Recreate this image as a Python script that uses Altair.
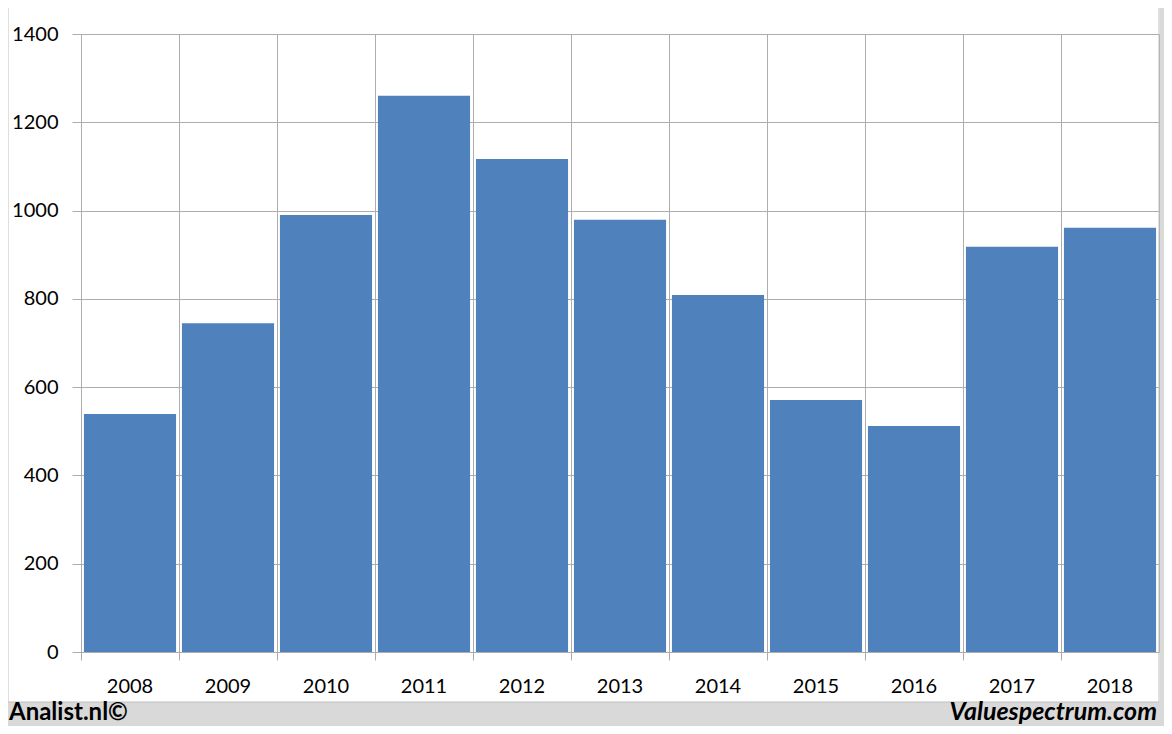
import altair as alt
import pandas as pd

years = ["2008", "2009", "2010", "2011", "2012", "2013", "2014", "2015", "2016", "2017", "2018"]
values = [539, 745, 990, 1260, 1117, 979, 809, 571, 512, 918, 961]
y_ticks = [0, 200, 400, 600, 800, 1000, 1200, 1400]

df = pd.DataFrame({"year": years, "value": values})

GRID = "#ADADAD"
BG = "#D9D9D9"
FONT = "Lato"

W, H = 1078, 618

one = pd.DataFrame({"k": [0]})

bottom_strip = alt.Chart(one).mark_rect(fill=BG).encode(
    x=alt.value(-80), x2=alt.value(1100), y=alt.value(668), y2=alt.value(720)
)
right_strip = alt.Chart(one).mark_rect(fill=BG).encode(
    x=alt.value(1079), x2=alt.value(1100), y=alt.value(-40), y2=alt.value(720)
)
panel_edge = alt.Chart(one).mark_rect(fill=None, stroke="#BFBFBF", strokeWidth=1).encode(
    x=alt.value(-73), x2=alt.value(1078), y=alt.value(-28), y2=alt.value(668)
)

bars = alt.Chart(df).mark_bar(
    color="#4F81BD", width=alt.RelativeBandSize(0.94)
).encode(
    x=alt.X("year:N", sort=years, title=None,
            scale=alt.Scale(paddingInner=0, paddingOuter=0),
            axis=alt.Axis(labelAngle=0, bandPosition=0, grid=True, gridColor=GRID,
                          domainColor=GRID, tickColor=GRID, tickSize=8,
                          labelPadding=16, labelFont=FONT, labelFontSize=20,
                          labelColor="#000000")),
    y=alt.Y("value:Q", title=None,
            scale=alt.Scale(domain=[0, 1400], nice=False),
            axis=alt.Axis(values=y_ticks, format="d", grid=True, gridColor=GRID,
                          domainColor=GRID, tickColor=GRID, tickSize=9,
                          labelPadding=14, labelFont=FONT, labelFontSize=20,
                          labelColor="#000000")),
)

left_txt = alt.Chart(pd.DataFrame({"t": ["Analist.nl©"]})).mark_text(
    align="left", baseline="alphabetic", font=FONT, fontSize=24, fontWeight="bold",
    color="#000000"
).encode(text="t:N", x=alt.value(-72), y=alt.value(686))

right_txt = alt.Chart(pd.DataFrame({"t": ["Valuespectrum.com"]})).mark_text(
    align="right", baseline="alphabetic", font=FONT, fontSize=25, fontWeight="bold",
    fontStyle="italic", color="#000000"
).encode(text="t:N", x=alt.value(1076), y=alt.value(686))

chart = alt.layer(bottom_strip, right_strip, panel_edge, bars, left_txt, right_txt).properties(
    width=W, height=H,
    autosize=alt.AutoSizeParams(type="none"),
    padding={"left": 73, "top": 26, "right": 5, "bottom": 74},
    background="white",
).configure_view(stroke=GRID, strokeWidth=1)

chart.save("out.html", embed_options={"renderer": "svg", "actions": False})
